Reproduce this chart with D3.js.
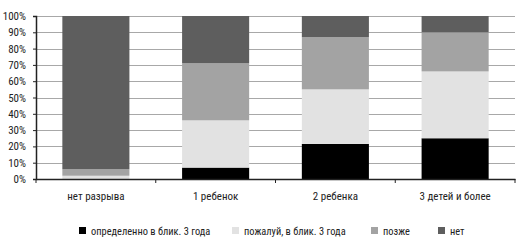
<!DOCTYPE html>
<html>
<head>
<meta charset="utf-8">
<script src="https://cdn.jsdelivr.net/npm/d3@7"></script>
<style>
  body { margin: 0; background: #fff; }
  text { font-family: "Roboto Condensed", "DejaVu Sans Condensed", sans-serif; fill: #111; }
</style>
</head>
<body>
<svg id="chart" width="519" height="243"></svg>
<script>
// data (percent)
const categories = ['нет разрыва', '1 ребенок', '2 ребенка', '3 детей и более'];
const seriesNames = ['определенно в блик. 3 года', 'пожалуй, в блик. 3 года', 'позже', 'нет'];
const definitely = [0, 7, 21.5, 25];
const probably = [2, 29, 33.5, 41];
const later = [4, 35, 32, 24];
const no = [94, 29, 13, 10];
const yTicks = [0, 10, 20, 30, 40, 50, 60, 70, 80, 90, 100];
const colors = ['#000000', '#e2e2e2', '#a3a3a3', '#5e5e5e'];

const svg = d3.select('#chart');
const margin = { left: 36, right: 4, top: 16, bottom: 64 };
const width = 519 - margin.left - margin.right;
const height = 243 - margin.top - margin.bottom;

const g = svg.append('g').attr('transform', `translate(${margin.left},${margin.top})`);

const rows = categories.map((c, i) => ({
  cat: c,
  s0: definitely[i], s1: probably[i], s2: later[i], s3: no[i]
}));
const stacked = d3.stack().keys(['s0', 's1', 's2', 's3'])(rows);

const x = d3.scaleBand().domain(categories).range([0, width]).paddingInner(0.44).paddingOuter(0.22);
const y = d3.scaleLinear().domain([0, 100]).range([height, 0]);

// gridlines
g.append('g')
  .selectAll('line')
  .data(yTicks.filter(d => d > 0))
  .join('line')
  .attr('x1', 0).attr('x2', width)
  .attr('y1', d => Math.round(y(d)) + 0.5).attr('y2', d => Math.round(y(d)) + 0.5)
  .attr('stroke', '#a8a8a8')
  .attr('stroke-width', 1.2);

// bars
g.selectAll('g.series')
  .data(stacked)
  .join('g')
  .attr('class', 'series')
  .attr('fill', (d, i) => colors[i])
  .selectAll('rect')
  .data(d => d)
  .join('rect')
  .attr('x', d => x(d.data.cat))
  .attr('width', x.bandwidth())
  .attr('y', d => y(d[1]))
  .attr('height', d => y(d[0]) - y(d[1]));

// y axis
const yAxis = g.append('g')
  .call(d3.axisLeft(y).tickValues(yTicks).tickFormat(d => d + '%').tickSize(3).tickPadding(7));
yAxis.select('.domain').attr('stroke', '#222').attr('stroke-width', 1.5);
yAxis.selectAll('.tick line').attr('stroke', '#222');
yAxis.selectAll('text').attr('font-size', 11).attr('font-family', null).style('fill', '#222');

// x axis
const xAxis = g.append('g')
  .attr('transform', `translate(0,${height})`)
  .call(d3.axisBottom(x).tickSize(0).tickPadding(13));
xAxis.select('.domain').attr('stroke', '#222').attr('stroke-width', 1.5);
xAxis.selectAll('text').attr('font-size', 11).attr('font-family', null).style('fill', '#222');

// category separator ticks
const step = x.step();
g.append('g')
  .selectAll('line')
  .data(d3.range(categories.length + 1))
  .join('line')
  .attr('x1', i => x(categories[0]) - x.step() * x.paddingInner() / 2 + i * step)
  .attr('x2', i => x(categories[0]) - x.step() * x.paddingInner() / 2 + i * step)
  .attr('y1', height).attr('y2', height + 4)
  .attr('stroke', '#222');

// legend
const legendX = [79, 232, 371, 438];
const legend = svg.append('g').attr('transform', 'translate(0,231)');
const items = legend.selectAll('g')
  .data(seriesNames)
  .join('g')
  .attr('transform', (d, i) => `translate(${legendX[i]},0)`);
items.append('rect')
  .attr('x', 0).attr('y', -4).attr('width', 7).attr('height', 7)
  .attr('fill', (d, i) => colors[i]);
items.append('text')
  .attr('x', 12).attr('y', 4)
  .attr('font-size', 10.4)
  .style('fill', '#222')
  .text(d => d);
</script>
</body>
</html>
